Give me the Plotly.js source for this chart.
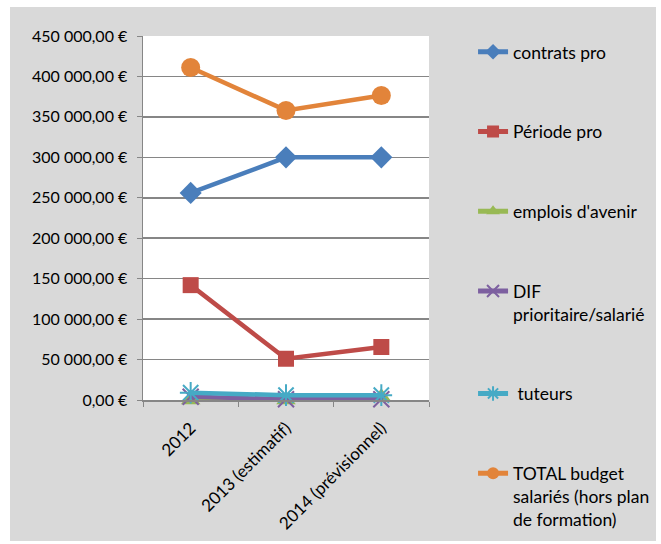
<!DOCTYPE html>
<html>
<head>
<meta charset="utf-8">
<script src="https://cdn.plot.ly/plotly-3.0.1.min.js"></script>
<style>
  html, body { margin: 0; padding: 0; background: #ffffff; }
  #chart { position: absolute; left: 10px; top: 7px; width: 646px; height: 534px; }
</style>
</head>
<body>
<div id="chart"></div>
<script>
const categories = ['2012', '2013 (estimatif)', '2014 (prévisionnel)'];
const contratsPro = [256000, 300000, 300000];
const periodePro = [142000, 51000, 65500];
const emploisAvenir = [0, 0, 4000];
const difPrioritaire = [4000, 1000, 1000];
const tuteurs = [9000, 6000, 6000];
const totalBudget = [411000, 358000, 376500];
const seriesNames = ['contrats pro', 'Période pro', "emplois d'avenir", 'DIF<br>prioritaire/salarié', ' tuteurs', 'TOTAL budget<br>salariés (hors plan<br>de formation)'];

const FONT = 'Lato, "Noto Sans", sans-serif';

function mk(name, y, color, symbol, size, lineMarker, group) {
  const marker = { symbol: symbol, size: size, color: color };
  if (lineMarker) marker.line = { color: color, width: 2 };
  return {
    type: 'scatter', mode: 'lines+markers', name: name, x: categories, y: y,
    line: { color: color, width: 4.5 }, marker: marker, legendgroup: group,
    cliponaxis: false
  };
}

const data = [
  mk(seriesNames[0], contratsPro, '#4a7ebb', 'diamond', 17, false, 'g1'),
  mk(seriesNames[1], periodePro, '#be4b48', 'square', 16, false, 'g2'),
  mk(seriesNames[2], emploisAvenir, '#98b954', 'triangle-up', 17, false, 'g3'),
  mk(seriesNames[3], difPrioritaire, '#7d60a0', 'x-thin', 16, true, 'g4'),
  mk(seriesNames[4], tuteurs, '#46aac5', 'asterisk', 18, true, 'g5'),
  mk(seriesNames[5], totalBudget, '#e2843a', 'circle', 19, false, 'g6')
];

const layout = {
  width: 646, height: 534,
  margin: { l: 133, r: 227, t: 29, b: 141, autoexpand: false },
  paper_bgcolor: '#d9d9d9',
  plot_bgcolor: '#ffffff',
  separators: ', ',
  font: { family: FONT, size: 16, color: '#000000' },
  showlegend: true,
  legend: {
    x: 1.154, xanchor: 'left', y: 1.006, yanchor: 'top',
    traceorder: 'grouped', tracegroupgap: 54, valign: 'top', maxheight: 700,
    entrywidth: 100, entrywidthmode: 'pixels', itemsizing: 'constant',
    bgcolor: 'rgba(0,0,0,0)', font: { family: FONT, size: 17.5, color: '#000000' }
  },
  xaxis: {
    type: 'category', range: [-0.5, 2.5], tickangle: -45,
    tickson: 'boundaries', ticks: 'outside', ticklen: 5, tickcolor: '#868686',
    ticklabelstandoff: 10, automargin: false,
    showline: true, linecolor: '#868686', linewidth: 1.5,
    showgrid: false, zeroline: false, tickfont: { family: FONT, size: 17 }
  },
  yaxis: {
    range: [0, 450000], dtick: 50000, tick0: 0,
    tickformat: ',.2f', ticksuffix: ' €', automargin: false,
    ticks: 'outside', ticklen: 5, tickcolor: '#868686', ticklabelstandoff: 6,
    showline: true, linecolor: '#868686', linewidth: 1.5,
    showgrid: true, gridcolor: '#868686', gridwidth: 1.5, zeroline: false,
    tickfont: { family: FONT, size: 16 }
  }
};

Plotly.newPlot('chart', data, layout, { displayModeBar: false, staticPlot: true });
</script>
</body>
</html>
